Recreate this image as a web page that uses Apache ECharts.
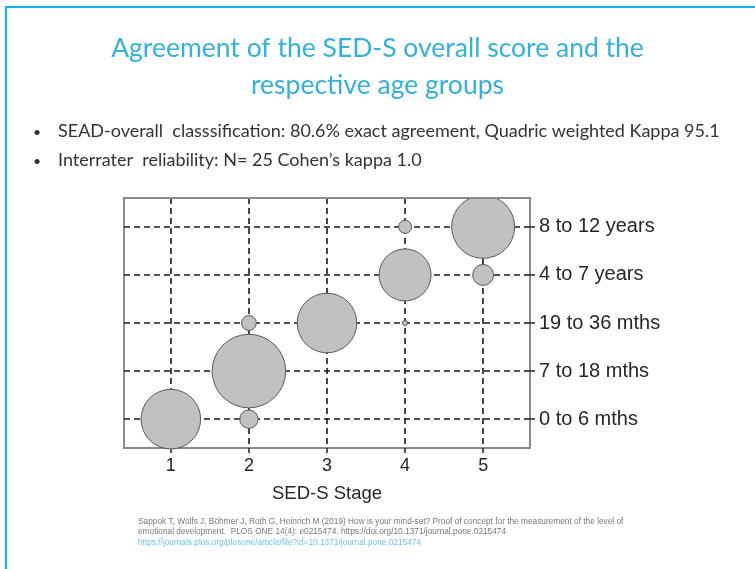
<!DOCTYPE html>
<html>
<head>
<meta charset="utf-8">
<script src="https://cdn.jsdelivr.net/npm/echarts@6/dist/echarts.min.js"></script>
<style>
    html, body { margin: 0; padding: 0; background: #fff; }
    #chart { width: 755px; height: 569px; }
</style>
</head>
<body>
<div id="chart"></div>
<script>
// 年龄组 (y轴, 从下往上)
const ageGroups = ['0 to 6 mths', '7 to 18 mths', '19 to 36 mths', '4 to 7 years', '8 to 12 years']
// SED-S 阶段 (x轴)
const stageTicks = [1, 2, 3, 4, 5]
const ageTicks = [1, 2, 3, 4, 5]

// 每个气泡: 阶段, 年龄组序号, 人数
const bubbleStage = [1, 2, 2, 2, 3, 4, 4, 4, 5, 5]
const bubbleAge = [1, 1, 2, 3, 3, 3, 4, 5, 4, 5]
const bubbleCount = [21, 2, 32, 1.3, 21, 0.15, 16, 1, 2.6, 23.5]

const bullets = [
    'SEAD-overall  classsification: 80.6% exact agreement, Quadric weighted Kappa 95.1',
    'Interrater  reliability: N= 25 Cohen\u2019s kappa 1.0'
]

const refLines = [
    'Sappok T, Wolfs J, B\u00f6hmer J, Roth G, Heinrich M (2019) How is your mind-set? Proof of concept for the measurement of the level of',
    'emotional development.  PLOS ONE 14(4): e0215474. https://doi.org/10.1371/journal.pone.0215474'
]
const refLink = 'https://journals.plos.org/plosone/article/file?id=10.1371/journal.pone.0215474'

const chart = echarts.init(document.getElementById('chart'))

const data = bubbleStage.map((s, i) => [s, bubbleAge[i], bubbleCount[i]])

const labelFont = '"Liberation Sans", Arial, sans-serif'
const slideFont = 'Lato, "Open Sans", sans-serif'
const borderGray = '#8a8a8a'

const option = {
    backgroundColor: '#fff',
    animation: false,
    title: {
        text: 'Agreement of the SED-S overall score and the\nrespective age groups',
        left: 'center',
        top: 25,
        textStyle: {
            fontFamily: slideFont,
            fontSize: 26.5,
            fontWeight: 'normal',
            color: '#35b1d8',
            lineHeight: 37
        }
    },
    graphic: [
        // 幻灯片边框
        { type: 'rect', shape: { x: 5, y: 6, width: 750, height: 2 }, style: { fill: '#10b4ee' } },
        { type: 'rect', shape: { x: 5, y: 6, width: 2, height: 563 }, style: { fill: '#10b4ee' } },
        // 要点
        { type: 'text', left: 33, top: 125, style: { text: '\u2022', fontSize: 14, fill: '#333', fontFamily: slideFont } },
        { type: 'text', left: 58, top: 122, style: { text: bullets[0], fontSize: 18, fill: '#333', fontFamily: slideFont } },
        { type: 'text', left: 33, top: 154, style: { text: '\u2022', fontSize: 14, fill: '#333', fontFamily: slideFont } },
        { type: 'text', left: 58, top: 151, style: { text: bullets[1], fontSize: 18, fill: '#333', fontFamily: slideFont } },
        // 参考文献
        { type: 'text', left: 138, top: 518, style: { text: refLines[0], fontSize: 8.3, fill: '#777', fontFamily: labelFont } },
        { type: 'text', left: 138, top: 528, style: { text: refLines[1], fontSize: 8.3, fill: '#777', fontFamily: labelFont } },
        { type: 'text', left: 138, top: 539, style: { text: refLink, fontSize: 8.3, fill: '#6cc6e6', fontFamily: labelFont } },
        // 裁掉超出绘图区顶部的气泡部分
        { type: 'rect', z: 100, shape: { x: 124, y: 182, width: 407, height: 15 }, style: { fill: '#fff' } },
        { type: 'rect', z: 101, shape: { x: 123, y: 197, width: 408, height: 2 }, style: { fill: borderGray } }
    ],
    grid: {
        left: 124,
        right: 225,
        top: 198,
        bottom: 121,
        show: true,
        backgroundColor: '#fff',
        borderColor: borderGray,
        borderWidth: 2
    },
    xAxis: {
        type: 'value',
        min: 0.4,
        max: 5.6,
        name: 'SED-S Stage',
        nameLocation: 'middle',
        nameGap: 36,
        nameTextStyle: { fontFamily: labelFont, fontSize: 18.5, color: '#262626' },
        axisLine: { show: false },
        axisTick: {
            customValues: stageTicks,
            length: 5,
            lineStyle: { color: '#222', width: 1.5 }
        },
        axisLabel: {
            customValues: stageTicks,
            margin: 9,
            fontFamily: labelFont,
            fontSize: 18,
            color: '#262626'
        },
        splitLine: {
            show: true,
            lineStyle: { color: '#1a1a1a', width: 1.6, type: [6, 4] }
        }
    },
    yAxis: {
        type: 'value',
        position: 'right',
        min: 0.4,
        max: 5.6,
        axisLine: { show: false },
        axisTick: {
            customValues: ageTicks,
            length: 5,
            lineStyle: { color: '#222', width: 1.5 }
        },
        axisLabel: {
            customValues: ageTicks,
            margin: 9,
            fontFamily: labelFont,
            fontSize: 20,
            color: '#262626',
            formatter: v => ageGroups[v - 1]
        },
        splitLine: {
            show: true,
            lineStyle: { color: '#1a1a1a', width: 1.6, type: [6, 4] }
        }
    },
    series: [{
        type: 'scatter',
        data: data,
        symbolSize: d => 13 * Math.sqrt(d[2]),
        itemStyle: {
            color: '#c1c1c1',
            borderColor: '#595959',
            borderWidth: 1,
            opacity: 1
        },
        clip: true,
        silent: true
    }]
}

chart.setOption(option)
</script>
</body>
</html>
